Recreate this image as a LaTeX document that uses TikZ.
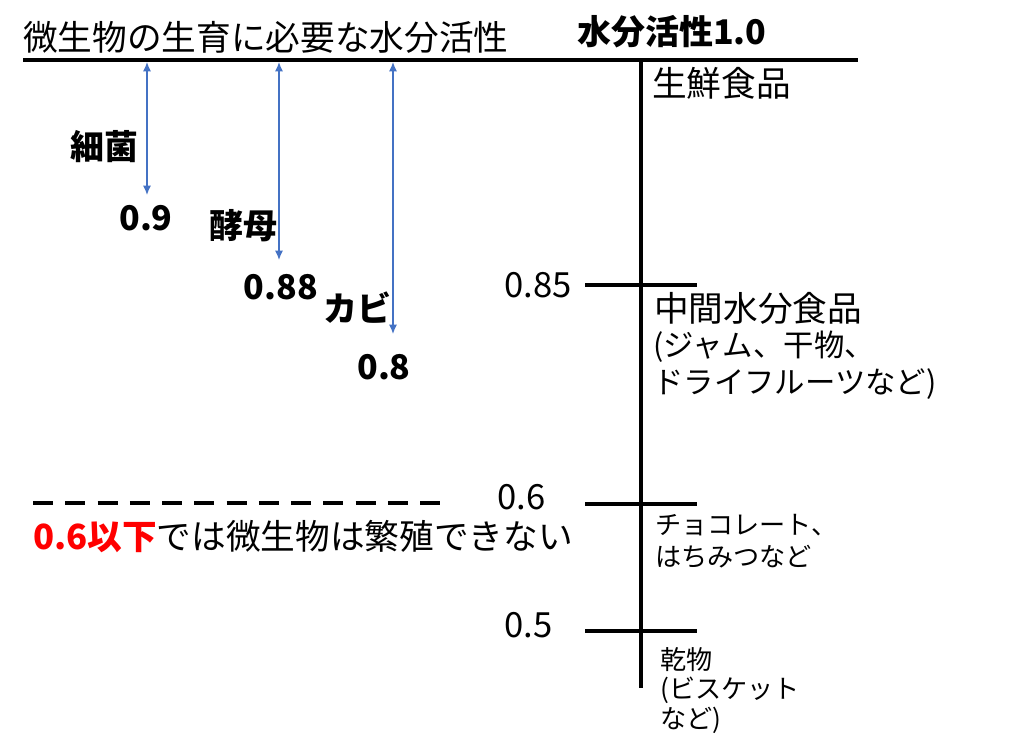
\documentclass[tikz,border=0pt]{standalone}
\usepackage{fontspec}
\setmainfont{Noto Sans CJK JP}
\usetikzlibrary{arrows.meta, positioning}
\definecolor{arrowblue}{RGB}{68,114,196}
\definecolor{limitred}{RGB}{255,0,0}

\begin{document}
\begin{tikzpicture}[
        x=0.75pt, y=-0.75pt,
        % 文字のスタイル
        txt/.style={inner sep=0pt, font=\fontsize{26}{30}\selectfont},
        boldtxt/.style={inner sep=0pt, font=\fontsize{25.5}{30}\selectfont\bfseries},
        midtxt/.style={inner sep=0pt, anchor=west, font=\fontsize{22.8}{26}\selectfont},
        smalltxt/.style={inner sep=0pt, anchor=west, font=\fontsize{19.6}{23}\selectfont},
        % 軸と目盛り
        axisline/.style={line width=3pt, black},
        tickline/.style={line width=3pt, black},
        % 矢印
        needarrow/.style={
                {Latex[length=7pt,width=6pt]}-{Latex[length=7pt,width=6pt]},
                line width=0.9pt,
                color=arrowblue
            },
        % 破線
        limitline/.style={line width=3.5pt, dash pattern=on 15pt off 9.2pt}
    ]
    \useasboundingbox (0,0) rectangle (1024,756);

    % 見出し
    \node[txt, anchor=west] (title) at (23,37) {微生物の生育に必要な水分活性};
    \node[boldtxt, anchor=west] (awtop) at (577,32) {水分活性1.0};

    % 軸
    \coordinate (topL) at (23,60);
    \coordinate (topR) at (858,60);
    \coordinate (axTop) at (641,60);
    \coordinate (axBot) at (641,688);
    \draw[axisline] (topL) -- (topR);
    \draw[axisline] (axTop) -- (axBot);

    % 目盛り
    \foreach \yy/\nm in {285/t85, 504/t60, 631/t50} {
        \coordinate (\nm L) at (585,\yy);
        \coordinate (\nm R) at (697,\yy);
        \draw[tickline] (\nm L) -- (\nm R);
    }
    \node[txt, anchor=east] (v85) at (572,285) {0.85};
    \node[txt, anchor=east] (v60) at (546,497) {0.6};
    \node[txt, anchor=east] (v50) at (553,625) {0.5};

    % 食品
    \node[txt, anchor=west] (fresh) at (652,83) {生鮮食品};
    \node[txt, anchor=west] (mid) at (654,308) {中間水分食品};
    \node[midtxt] (mid2) at (653,347) {(ジャム、干物、};
    \node[midtxt] (mid3) at (653,384) {ドライフルーツなど)};
    \node[smalltxt] (choco) at (655,525) {チョコレート、};
    \node[smalltxt] (honey) at (655,557) {はちみつなど};
    \node[smalltxt] (dry) at (660,660) {乾物};
    \node[smalltxt] (dry2) at (660,690) {(ビスケット};
    \node[smalltxt] (dry3) at (660,720) {など)};

    % 微生物
    \node[boldtxt] (bac) at (104,147) {細菌};
    \node[boldtxt] (bac09) at (146,218) {0.9};
    \node[boldtxt] (yeast) at (243,226) {酵母};
    \node[boldtxt] (yeast088) at (281,287) {0.88};
    \node[boldtxt] (mold) at (357,308) {カビ};
    \node[boldtxt] (mold08) at (384,367) {0.8};

    % 矢印
    \coordinate (bacA) at (147,62);
    \coordinate (bacB) at (147,195);
    \coordinate (yeastA) at (279,62);
    \coordinate (yeastB) at (279,260);
    \coordinate (moldA) at (393,62);
    \coordinate (moldB) at (393,334);
    \draw[needarrow] (bacA) -- (bacB);
    \draw[needarrow] (yeastA) -- (yeastB);
    \draw[needarrow] (moldA) -- (moldB);

    % 下限
    \coordinate (limL) at (33,503);
    \coordinate (limR) at (440,503);
    \draw[limitline] (limL) -- (limR);
    \node[txt, anchor=west] (limit) at (33,537) {\textcolor{limitred}{\bfseries 0.6以下}では微生物は繁殖できない};

\end{tikzpicture}
\end{document}
